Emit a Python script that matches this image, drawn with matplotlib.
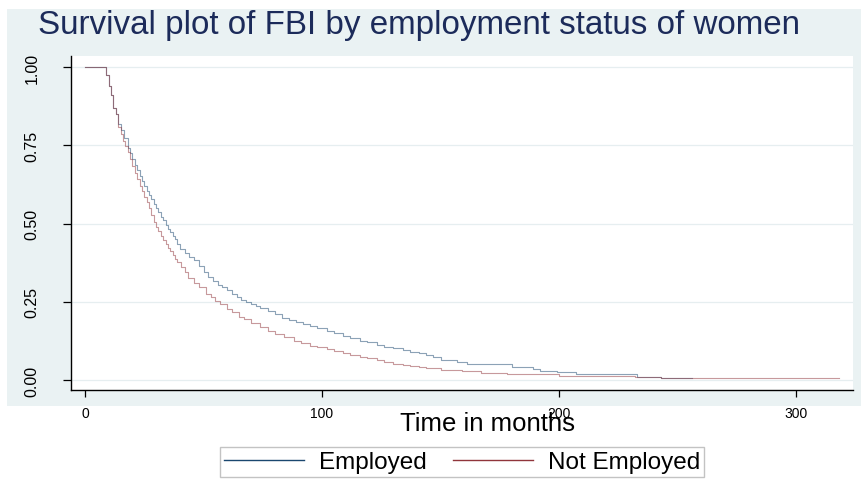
import matplotlib.pyplot as plt
import numpy as np
from matplotlib.lines import Line2D
from matplotlib.patches import Rectangle

plt.rcParams['font.family'] = ['Liberation Sans', 'DejaVu Sans']

# Kaplan-Meier estimates (time in months, survivor function)
t_emp = [0, 9, 10, 11, 12, 13, 14, 15, 16.5, 18, 19, 20, 21, 22, 23, 24, 25,
         26, 27, 28, 29, 30, 31, 32, 33, 34, 35, 36, 37, 38, 39, 40, 42, 44,
         46, 48, 50, 52, 54, 56, 58, 60, 62, 64, 66, 68, 70, 72, 74, 77, 80,
         83, 86, 89, 92, 95, 98, 102, 105, 109, 112, 116, 119, 123, 126, 130,
         134, 137, 141, 144, 147, 150, 157, 161, 180, 189, 192, 199, 207, 233,
         243, 256]
s_emp = [1.0, 0.974, 0.94, 0.911, 0.871, 0.85, 0.82, 0.80, 0.775, 0.743, 0.725,
         0.706, 0.688, 0.67, 0.652, 0.635, 0.62, 0.605, 0.59, 0.578, 0.564,
         0.55, 0.536, 0.522, 0.51, 0.497, 0.484, 0.472, 0.461, 0.45, 0.435,
         0.42, 0.405, 0.393, 0.383, 0.365, 0.345, 0.328, 0.315, 0.305, 0.297,
         0.289, 0.276, 0.264, 0.256, 0.249, 0.243, 0.236, 0.229, 0.22, 0.21,
         0.199, 0.193, 0.187, 0.18, 0.172, 0.166, 0.158, 0.151, 0.142, 0.134,
         0.126, 0.12, 0.113, 0.107, 0.101, 0.095, 0.09, 0.085, 0.08, 0.072,
         0.065, 0.056, 0.052, 0.04, 0.034, 0.028, 0.024, 0.019, 0.0085, 0.007,
         0.007]

t_not = [0, 9, 10, 11, 12, 13, 14, 15, 16, 17, 18, 19, 20, 21, 22, 23, 24, 25,
         26, 27, 28, 29, 30, 31, 32, 33, 34, 35, 36, 37, 38, 39, 40.5, 42, 43.5,
         46, 48, 51, 53, 55, 57, 60, 62, 65, 67, 70, 74, 77, 80, 84, 88, 91,
         95, 98, 102, 105, 109, 112, 116, 119, 123, 126, 130, 134, 137, 141,
         144, 150, 159, 167, 178, 200, 232, 243, 318]
s_not = [1.0, 0.974, 0.94, 0.911, 0.871, 0.85, 0.81, 0.786, 0.765, 0.749, 0.728,
         0.706, 0.685, 0.663, 0.642, 0.621, 0.603, 0.585, 0.568, 0.55, 0.528,
         0.505, 0.49, 0.475, 0.461, 0.448, 0.435, 0.423, 0.411, 0.40, 0.388,
         0.376, 0.36, 0.345, 0.325, 0.31, 0.298, 0.275, 0.264, 0.253, 0.243,
         0.228, 0.218, 0.203, 0.195, 0.182, 0.168, 0.158, 0.148, 0.137, 0.126,
         0.119, 0.11, 0.105, 0.099, 0.093, 0.087, 0.081, 0.075, 0.07, 0.063,
         0.057, 0.051, 0.047, 0.044, 0.04, 0.037, 0.033, 0.028, 0.022, 0.018,
         0.013, 0.0085, 0.005, 0.005]

labels = ['Employed', 'Not Employed']
colors = ['#1a476f', '#90353b']
xticks = [0, 100, 200, 300]
yticks = [0.0, 0.25, 0.5, 0.75, 1.0]

fig = plt.figure(figsize=(8.61, 4.81), dpi=100)
fig.patch.set_facecolor('white')
fig.patches.append(Rectangle((7 / 861, 1 - 407 / 481), 854 / 861, 397 / 481,
                             transform=fig.transFigure, facecolor='#eaf2f3',
                             edgecolor='none', zorder=-10))

ax = fig.add_axes([71 / 861, 1 - 391 / 481, 782 / 861, 333.7 / 481])
ax.set_facecolor('white')

for t, s, c in zip([t_emp, t_not], [s_emp, s_not], colors):
    ax.plot(t, s, drawstyle='steps-post', color=c, lw=0.8, alpha=0.5)

ax.set_xlim(-5.9, 324.0)
ax.set_ylim(-0.032, 1.035)
ax.set_xticks(xticks)
ax.set_yticks(yticks)
ax.set_yticklabels(['%.2f' % v for v in yticks], rotation=90, va='center',
                   fontsize=11.5)
ax.set_xticklabels([str(v) for v in xticks], fontsize=10)
ax.tick_params(axis='y', length=5.8, width=0.9, pad=17)
ax.tick_params(axis='x', length=5.2, width=0.9, pad=6)
ax.grid(axis='y', color='#e6eef0', lw=0.9)
ax.set_axisbelow(True)
for side in ['top', 'right']:
    ax.spines[side].set_visible(False)
for side in ['left', 'bottom']:
    ax.spines[side].set_linewidth(1.0)
    ax.spines[side].set_color('black')

fig.text(38 / 861, 1 - 34 / 481, 'Survival plot of FBI by employment status of women',
         fontsize=23.9, color='#1c2b5a', ha='left', va='baseline')
fig.text(488 / 861, 1 - 424 / 481, 'Time in months', fontsize=18.5,
         ha='center', va='center')

handles = [Line2D([], [], color=c, lw=1.0) for c in colors]
leg = fig.legend(handles, labels, loc='center', ncol=2,
                 bbox_to_anchor=(462 / 861, 1 - 463 / 481), fontsize=17.5,
                 handlelength=3.3, handletextpad=0.6, columnspacing=1.1,
                 borderpad=0.15, fancybox=False, frameon=True)
leg.get_frame().set_edgecolor('#b4b4b4')
leg.get_frame().set_linewidth(1.0)

fig.savefig('out.png', dpi=100)
